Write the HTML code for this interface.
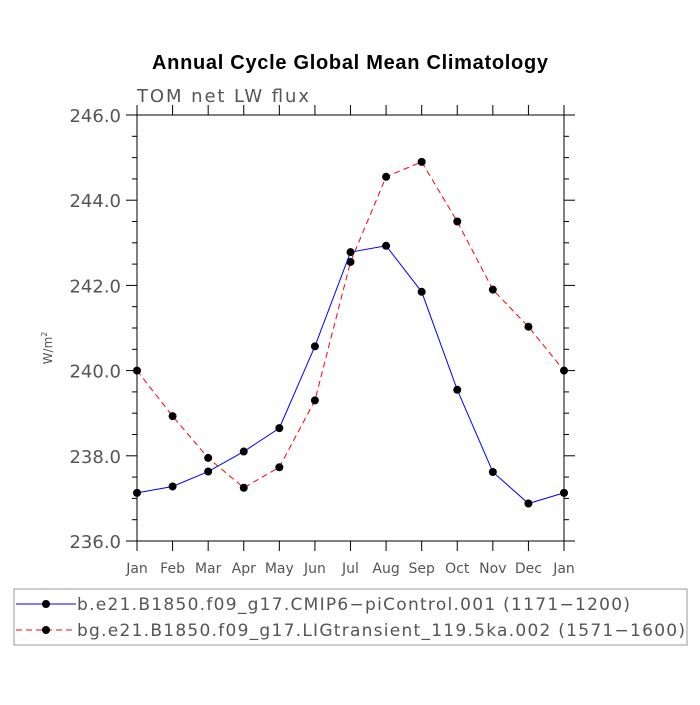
<!DOCTYPE html>
<html><head><meta charset="utf-8"><style>
body{margin:0;background:#fff}
svg text{font-family:"DejaVu Sans","Liberation Sans",sans-serif}
</style></head><body>
<svg id="c" width="700" height="700" xmlns="http://www.w3.org/2000/svg">
<rect width="700" height="700" fill="#fff"/>
<text x="152" y="69" font-size="20" font-weight="bold" fill="#000" textLength="396" style="font-family:'Liberation Sans',sans-serif">Annual Cycle Global Mean Climatology</text>
<text x="137" y="102" font-size="18" fill="#555" textLength="172">TOM net LW flux</text>
<text transform="translate(52,348) rotate(-90)" text-anchor="middle" font-size="12" fill="#555">W/m<tspan dy="-5" font-size="8">2</tspan></text>
<g id="axes"></g>
<g id="series"></g>
<rect x="14" y="589" width="673" height="56" fill="none" stroke="#999"/>
<g>
<line x1="16" y1="604" x2="76" y2="604" stroke="#00f" stroke-width="1"/>
<circle cx="46" cy="604" r="4" fill="#000"/>
<text x="77" y="610" font-size="17" fill="#555" textLength="553">b.e21.B1850.f09_g17.CMIP6−piControl.001 (1171−1200)</text>
</g>
<g>
<line x1="16" y1="630" x2="76" y2="630" stroke="#f00" stroke-width="1" stroke-dasharray="6,4"/>
<circle cx="46" cy="630" r="4" fill="#000"/>
<text x="77" y="636" font-size="17" fill="#555" textLength="608">bg.e21.B1850.f09_g17.LIGtransient_119.5ka.002 (1571−1600)</text>
</g>
</svg>
<script>
const months=["Jan","Feb","Mar","Apr","May","Jun","Jul","Aug","Sep","Oct","Nov","Dec","Jan"];
const yTicks=[236,238,240,242,244,246];
const yTickLabels=["236.0","238.0","240.0","242.0","244.0","246.0"];
const blueValues=[237.13,237.28,237.63,238.1,238.65,240.57,242.78,242.93,241.85,239.55,237.62,236.88,237.13];
const redValues=[240.0,238.93,237.95,237.25,237.73,239.3,242.55,244.55,244.9,243.5,241.9,241.03,240.0];
const L=137,R=564,T=115,B=541,yMin=236,yMax=246;
const NS="http://www.w3.org/2000/svg";
function xs(i){return L+(R-L)*i/(months.length-1);}
function ys(v){return B-(B-T)*(v-yMin)/(yMax-yMin);}
function mk(tag,attrs,parent){const e=document.createElementNS(NS,tag);for(const k in attrs)e.setAttribute(k,attrs[k]);parent.appendChild(e);return e;}
const ax=document.getElementById('axes');
const fr=mk('rect',{x:L,y:T,width:R-L,height:B-T,fill:'none',stroke:'#000','stroke-width':1},ax);


months.forEach((m,i)=>{
  const x=xs(i);
  mk('line',{x1:x,y1:B,x2:x,y2:B+10,stroke:'#000'},ax);
  mk('line',{x1:x,y1:T,x2:x,y2:T-10,stroke:'#000'},ax);
  const t=mk('text',{x:x,y:B+32,'text-anchor':'middle','font-size':14,fill:'#555'},ax);
  t.textContent=m;
  
  
});
for(let v=yMin;v<=yMax+1e-9;v+=0.5){
  const y=ys(v);const major=Math.abs(v-Math.round(v/2)*2)<1e-9;const len=major?11:5;
  mk('line',{x1:L,y1:y,x2:L-len,y2:y,stroke:'#000'},ax);
  mk('line',{x1:R,y1:y,x2:R+len,y2:y,stroke:'#000'},ax);
}
yTicks.forEach((v,i)=>{
  const t=mk('text',{x:L-16,y:ys(v)+7,'text-anchor':'end','font-size':18,fill:'#555'},ax);
  t.textContent=yTickLabels[i];
  
  
});
const sg=document.getElementById('series');
function draw(vals,color,dash,name){
  const g=mk('g',{},sg);
  
  
  const p=mk('polyline',{points:vals.map((v,i)=>xs(i)+','+ys(v)).join(' '),fill:'none',stroke:color,'stroke-width':1},g);
  if(dash)p.setAttribute('stroke-dasharray',dash);
  vals.forEach((v,i)=>{const c=mk('circle',{cx:xs(i),cy:ys(v),r:4,fill:'#000'},g);
    
    });
}
draw(redValues,'#f00','6,4','series-lig');
draw(blueValues,'#00f',null,'series-picontrol');
</script>
</body></html>
